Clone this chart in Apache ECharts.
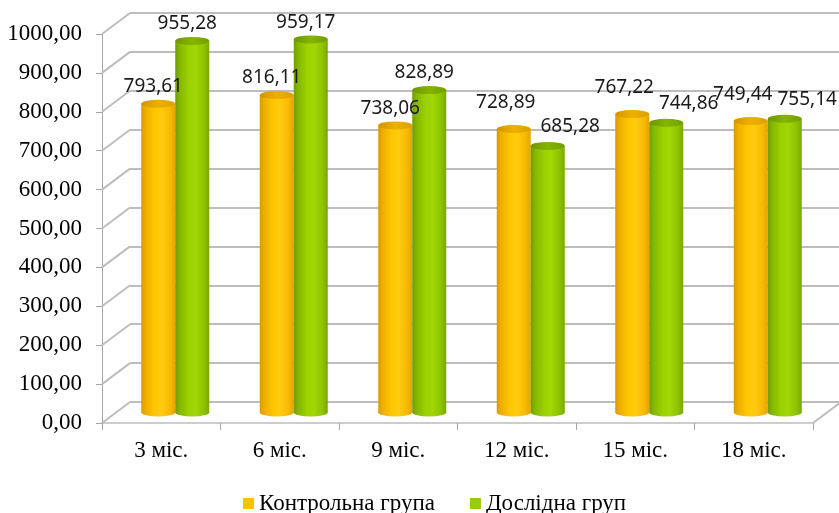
<!DOCTYPE html>
<html>
<head>
<meta charset="utf-8">
<script src="https://cdn.jsdelivr.net/npm/echarts@6/dist/echarts.min.js"></script>
<style>
  html, body { margin: 0; padding: 0; background: #fff; }
  #chart { width: 839px; height: 513px; }
</style>
</head>
<body>
<div id="chart"></div>
<script>
// Data
const categories = ['3 міс.', '6 міс.', '9 міс.', '12 міс.', '15 міс.', '18 міс.'];
const controlGroup = [793.61, 816.11, 738.06, 728.89, 767.22, 749.44];
const studyGroup = [955.28, 959.17, 828.89, 685.28, 744.86, 755.14];
const yTicks = [0, 100, 200, 300, 400, 500, 600, 700, 800, 900, 1000];
const seriesNames = ['Контрольна група', 'Дослідна груп'];

// Pseudo-3D layout: front plane, middle (bars) plane and back wall
const FRONT_LEFT = 102, FRONT_TOP = 34, PLOT_W = 711, PLOT_H = 389;
const DEPTH_X = 28, DEPTH_Y = 21;
const BAR_FRACTION = 0.287;
const CAP_RY = 4;

const LABEL_FONT = '19px "Noto Sans"';
const SERIF = 'Liberation Serif';
const SERIF_SIZE = 23;

const fmt = v => v.toFixed(2).replace('.', ',');

const measureCtx = document.createElement('canvas').getContext('2d');
function textWidth(t) { measureCtx.font = LABEL_FONT; return measureCtx.measureText(t).width; }

const LG = echarts.graphic.LinearGradient;
const palettes = [
  {
    solid: '#FFC000',
    body: [[0, '#D99A00'], [0.12, '#EDAE00'], [0.4, '#FFC700'], [0.6, '#FFCB10'], [0.85, '#F7B900'], [1, '#E3A300']],
    cap: [[0, '#D29400'], [0.5, '#EDB000'], [1, '#DCA000']]
  },
  {
    solid: '#99CC00',
    body: [[0, '#6E9C00'], [0.12, '#84B600'], [0.4, '#9CD200'], [0.6, '#A2D606'], [0.85, '#8EC200'], [1, '#78A800']],
    cap: [[0, '#6C9600'], [0.5, '#86B400'], [1, '#739E00']]
  }
];

function cylinderRenderer(side, pal) {
  return function (params, api) {
    const i = api.value(0), v = api.value(1);
    const top = api.coord([i, v]);
    const base = api.coord([i, 0]);
    const w = api.size([1, 0])[0] * BAR_FRACTION;
    const rx = w / 2;
    const cx = top[0] + side * rx;
    const bodyFill = new LG(0, 0, 1, 0, pal.body.map(s => ({ offset: s[0], color: s[1] })));
    const capFill = new LG(0, 0, 1, 0, pal.cap.map(s => ({ offset: s[0], color: s[1] })));
    return {
      type: 'group',
      children: [
        { type: 'circle', x: cx, y: base[1], scaleY: CAP_RY / rx, shape: { cx: 0, cy: 0, r: rx }, style: { fill: bodyFill } },
        { type: 'rect', shape: { x: cx - rx, y: top[1], width: w, height: base[1] - top[1] }, style: { fill: bodyFill } },
        { type: 'circle', x: cx, y: top[1], scaleY: CAP_RY / rx, shape: { cx: 0, cy: 0, r: rx }, style: { fill: capFill } }
      ]
    };
  };
}

// Value labels, pushed apart when the two labels of a category collide
function labelRenderer(params, api) {
  const i = api.value(0);
  const a = api.value(1), b = api.value(2);
  const pa = api.coord([i, a]), pb = api.coord([i, b]);
  const w = api.size([1, 0])[0] * BAR_FRACTION;
  const ta = fmt(a), tb = fmt(b);
  const wa = textWidth(ta), wb = textWidth(tb);
  let ax = pa[0] - w / 2 - 5, ay = pa[1] - 17;
  let bx = pb[0] + w / 2 - 5, by = pb[1] - 17;
  const lineH = 22;
  if (Math.abs(ay - by) < lineH && Math.abs(ax - bx) < (wa + wb) / 2) {
    ax -= 3; ay = pa[1] - 26;
    bx = ax + wa / 2 + 5 + wb / 2; by = pb[1] - 19;
  }
  const mk = (t, x, y) => ({
    type: 'text', x: x, y: y,
    style: { text: t, font: LABEL_FONT, fill: '#1a1a1a', align: 'center', verticalAlign: 'middle' }
  });
  return { type: 'group', children: [mk(ta, ax, ay), mk(tb, bx, by)] };
}

// Side wall and floor edges joining the front axis to the back wall
function depthRenderer(params, api) {
  const v = api.value(1);
  const p = api.coord([0, v]);
  const cs = params.coordSys;
  const style = { stroke: '#BDBDBD', lineWidth: 2 };
  const children = [
    { type: 'line', shape: { x1: cs.x, y1: p[1], x2: cs.x + DEPTH_X, y2: p[1] - DEPTH_Y }, style: style }
  ];
  if (v === 0) {
    children.push({ type: 'line', shape: { x1: cs.x + cs.width, y1: p[1], x2: cs.x + cs.width + DEPTH_X, y2: p[1] - DEPTH_Y }, style: style });
  }
  return { type: 'group', children: children };
}

const chart = echarts.init(document.getElementById('chart'), null, { renderer: 'canvas' });

const gridAt = f => ({ left: FRONT_LEFT + DEPTH_X * f, top: FRONT_TOP - DEPTH_Y * f, width: PLOT_W, height: PLOT_H });

const valueAxisBase = { type: 'value', min: 0, max: 1000, interval: 100 };

chart.setOption({
  animation: false,
  backgroundColor: '#ffffff',
  grid: [gridAt(1), gridAt(0.5), gridAt(0)],
  xAxis: [
    { gridIndex: 0, type: 'category', data: categories, show: false },
    { gridIndex: 1, type: 'category', data: categories, show: false },
    {
      gridIndex: 2, type: 'category', data: categories,
      axisLine: { show: true, lineStyle: { color: '#BDBDBD', width: 1.5 } },
      axisTick: { show: true, interval: 0, length: 7, lineStyle: { color: '#A6A6A6' } },
      axisLabel: { interval: 0, margin: 16, color: '#000', fontFamily: SERIF, fontSize: SERIF_SIZE },
      splitLine: { show: false }
    }
  ],
  yAxis: [
    Object.assign({ gridIndex: 0, axisLine: { show: false }, axisTick: { show: false }, axisLabel: { show: false },
      splitLine: { show: true, lineStyle: { color: '#BDBDBD', width: 2 } } }, valueAxisBase),
    Object.assign({ gridIndex: 1, show: false }, valueAxisBase),
    Object.assign({ gridIndex: 2,
      axisLine: { show: true, lineStyle: { color: '#A6A6A6', width: 1 } },
      axisTick: { show: true, length: 6, lineStyle: { color: '#A6A6A6' } },
      axisLabel: { margin: 20, color: '#000', fontFamily: SERIF, fontSize: SERIF_SIZE, formatter: fmt },
      splitLine: { show: false } }, valueAxisBase)
  ],
  legend: {
    data: seriesNames,
    left: 238, top: 487,
    icon: 'rect', itemWidth: 11, itemHeight: 11, itemGap: 35, itemStyle: { borderWidth: 0 },
    textStyle: { fontFamily: SERIF, fontSize: SERIF_SIZE, color: '#000' }
  },
  series: [
    {
      type: 'custom', name: 'depth', xAxisIndex: 2, yAxisIndex: 2, silent: true,
      data: yTicks.map(v => [0, v]), renderItem: depthRenderer, z: 1
    },
    {
      type: 'custom', name: seriesNames[0], xAxisIndex: 1, yAxisIndex: 1,
      itemStyle: { color: palettes[0].solid },
      data: controlGroup.map((v, i) => [i, v]), renderItem: cylinderRenderer(-1, palettes[0]), z: 3
    },
    {
      type: 'custom', name: seriesNames[1], xAxisIndex: 1, yAxisIndex: 1,
      itemStyle: { color: palettes[1].solid },
      data: studyGroup.map((v, i) => [i, v]), renderItem: cylinderRenderer(1, palettes[1]), z: 4
    },
    {
      type: 'custom', name: 'labels', xAxisIndex: 1, yAxisIndex: 1, silent: true,
      data: categories.map((c, i) => [i, controlGroup[i], studyGroup[i]]),
      encode: { x: 0, y: [1, 2] },
      renderItem: labelRenderer, z: 5
    }
  ]
});
</script>
</body>
</html>
